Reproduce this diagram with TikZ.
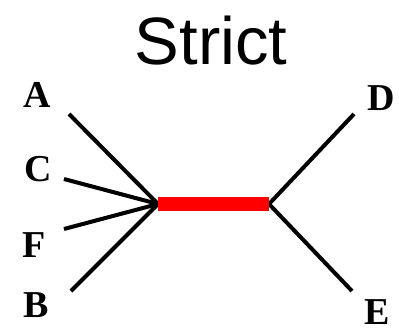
\documentclass[tikz,border=0pt]{standalone}
\usepackage{fontspec}
\setmainfont{Liberation Serif}
\setsansfont{Liberation Sans}
\begin{document}
\begin{tikzpicture}[x=1pt,y=-1pt,
  lbl/.style={anchor=base,inner sep=0pt,text depth=0pt,font=\fontsize{38}{44}\selectfont\bfseries},
  ttl/.style={anchor=base,inner sep=0pt,text depth=0pt,font=\fontsize{67}{78}\selectfont\sffamily},
  branch/.style={line width=4pt,black},
  inner/.style={line width=14pt,red,line cap=butt}]
\useasboundingbox (0,0) rectangle (399,330);
\node[ttl] (title) at (211,64) {Strict};
\node[lbl] (A) at (37.5,107.5) {A};
\node[lbl] (C) at (38.5,181) {C};
\node[lbl] (F) at (34,257) {F};
\node[lbl] (B) at (36,317) {B};
\node[lbl] (D) at (381,110) {D};
\node[lbl] (E) at (377.5,324) {E};
\coordinate (a) at (69,114);
\coordinate (c) at (64,179);
\coordinate (f) at (64,229);
\coordinate (b) at (71,291);
\coordinate (d) at (354,114);
\coordinate (e) at (352,291);
\coordinate (j1) at (158,204);
\coordinate (j2) at (269,204);
\draw[branch] (a) -- (j1);
\draw[branch] (c) -- (j1);
\draw[branch] (f) -- (j1);
\draw[branch] (b) -- (j1);
\draw[branch] (d) -- (j2);
\draw[branch] (e) -- (j2);
\draw[inner] (j1) -- (j2);
\end{tikzpicture}
\end{document}
